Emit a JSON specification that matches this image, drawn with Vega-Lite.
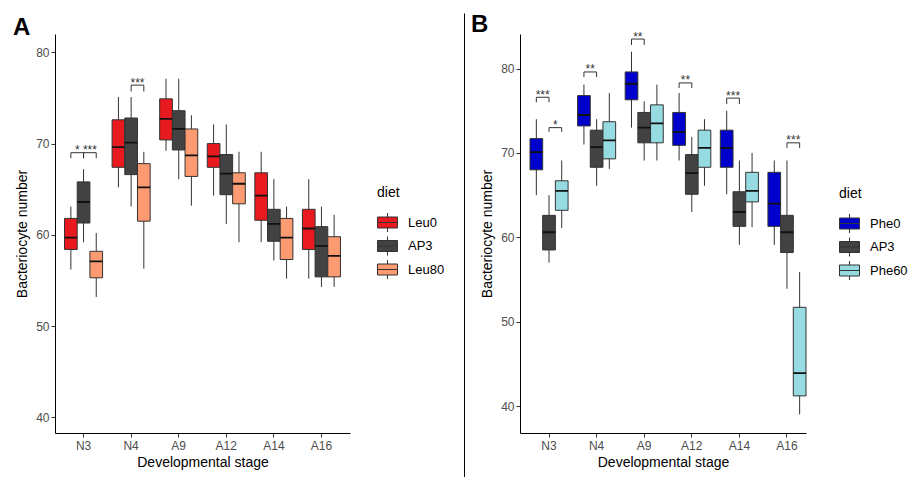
{
  "$schema": "https://vega.github.io/schema/vega-lite/v6.json",
  "background": "white",
  "padding": {"left": 13, "top": 12, "right": 0, "bottom": 0},
  "columns": 3,
  "align": "none",
  "spacing": 6,
  "config": {
    "font": "Liberation Sans",
    "view": {"stroke": null},
    "axis": {"domainColor": "#000", "domainWidth": 1, "tickColor": "#333", "tickSize": 4, "labelColor": "#4D4D4D", "labelFontSize": 12, "labelPadding": 2, "titleFontSize": 14, "titleFontWeight": "normal", "titleColor": "#000", "grid": false},
    "legend": {"titleFontSize": 14, "titleFontWeight": "normal", "titleColor": "#000", "labelFontSize": 13, "labelColor": "#000", "symbolType": "M-1,-0.55H1V0.55H-1Z M-1,0H1 M0,-0.55V-0.95 M0,0.55V0.95", "symbolSize": 400, "symbolStrokeColor": "#333", "symbolStrokeWidth": 1, "symbolOpacity": 1, "labelOffset": 10, "rowPadding": 0.5, "titlePadding": 12, "padding": 13}
  },
  "resolve": {"scale": {"color": "independent", "x": "independent", "y": "independent", "xOffset": "independent"}, "legend": {"color": "independent"}},
  "concat": [
    {
      "width": 295,
      "height": 399,
      "title": {"text": "A", "fontSize": 24, "fontWeight": "bold", "color": "#000", "anchor": "start", "frame": "group", "dx": -42, "offset": -6},
      "data": {"values": [
        {"stage": "N3", "diet": "Leu0", "min": 56.2, "q1": 58.4, "med": 59.7, "q3": 61.8, "max": 63.1},
        {"stage": "N3", "diet": "AP3", "min": 59.2, "q1": 61.3, "med": 63.6, "q3": 65.8, "max": 67.2},
        {"stage": "N3", "diet": "Leu80", "min": 53.2, "q1": 55.3, "med": 57.1, "q3": 58.2, "max": 60.2},
        {"stage": "N4", "diet": "Leu0", "min": 65.2, "q1": 67.4, "med": 69.6, "q3": 72.6, "max": 75.1},
        {"stage": "N4", "diet": "AP3", "min": 63.1, "q1": 66.6, "med": 70.1, "q3": 72.8, "max": 75.1},
        {"stage": "N4", "diet": "Leu80", "min": 56.3, "q1": 61.5, "med": 65.2, "q3": 67.8, "max": 69.1},
        {"stage": "A9", "diet": "Leu0", "min": 69.2, "q1": 70.4, "med": 72.7, "q3": 74.9, "max": 77.1},
        {"stage": "A9", "diet": "AP3", "min": 66.1, "q1": 69.3, "med": 71.6, "q3": 73.6, "max": 77.1},
        {"stage": "A9", "diet": "Leu80", "min": 63.2, "q1": 66.4, "med": 68.7, "q3": 71.6, "max": 73.1},
        {"stage": "A12", "diet": "Leu0", "min": 64.3, "q1": 67.4, "med": 68.6, "q3": 70.0, "max": 72.1},
        {"stage": "A12", "diet": "AP3", "min": 61.2, "q1": 64.4, "med": 66.7, "q3": 68.8, "max": 72.1},
        {"stage": "A12", "diet": "Leu80", "min": 59.2, "q1": 63.4, "med": 65.6, "q3": 66.8, "max": 69.1},
        {"stage": "A14", "diet": "Leu0", "min": 59.2, "q1": 61.6, "med": 64.3, "q3": 66.8, "max": 69.1},
        {"stage": "A14", "diet": "AP3", "min": 57.2, "q1": 59.3, "med": 61.2, "q3": 62.8, "max": 66.1},
        {"stage": "A14", "diet": "Leu80", "min": 55.2, "q1": 57.3, "med": 59.7, "q3": 61.8, "max": 63.1},
        {"stage": "A16", "diet": "Leu0", "min": 55.2, "q1": 58.4, "med": 60.7, "q3": 62.8, "max": 66.1},
        {"stage": "A16", "diet": "AP3", "min": 54.3, "q1": 55.4, "med": 58.8, "q3": 60.9, "max": 63.1},
        {"stage": "A16", "diet": "Leu80", "min": 54.3, "q1": 55.4, "med": 57.7, "q3": 59.8, "max": 62.2}
      ]},
      "encoding": {
        "x": {"field": "stage", "type": "nominal", "sort": ["N3", "N4", "A9", "A12", "A14", "A16"], "scale": {"paddingInner": 0.2, "paddingOuter": 0.2}, "axis": {"title": "Developmental stage", "labelAngle": 0, "labelPadding": 3, "titlePadding": 4}},
        "xOffset": {"field": "diet", "type": "nominal", "sort": ["Leu0", "AP3", "Leu80"], "scale": {"paddingInner": 0, "paddingOuter": 0}}
      },
      "layer": [
        {
          "mark": {"type": "rule", "color": "#333", "strokeWidth": 1},
          "encoding": {
            "y": {"field": "min", "type": "quantitative", "scale": {"domain": [38.3, 82], "nice": false, "zero": false}, "axis": {"title": "Bacteriocyte number", "values": [40, 50, 60, 70, 80], "titlePadding": 6}},
            "y2": {"field": "max"}
          }
        },
        {
          "mark": {"type": "bar", "stroke": "#333", "strokeWidth": 1},
          "encoding": {
            "y": {"field": "q1", "type": "quantitative"},
            "y2": {"field": "q3"},
            "color": {"field": "diet", "type": "nominal", "sort": ["Leu0", "AP3", "Leu80"], "scale": {"domain": ["Leu0", "AP3", "Leu80"], "range": ["#E8191F", "#424242", "#FC9A72"]}, "legend": {"title": "diet", "orient": "none", "legendX": 309, "legendY": 139}}
          }
        },
        {
          "mark": {"type": "bar", "fill": "transparent", "stroke": "#111", "strokeWidth": 1.8},
          "encoding": {
            "y": {"field": "med", "type": "quantitative"},
            "y2": {"field": "med"}
          }
        },
        {
          "data": {"values": [
            {"id": "a1", "stage": "N3", "diet": "Leu0", "y": 68.4, "k": 1},
            {"id": "a1", "stage": "N3", "diet": "Leu0", "y": 69.0, "k": 2},
            {"id": "a1", "stage": "N3", "diet": "AP3", "y": 69.0, "k": 3},
            {"id": "a1", "stage": "N3", "diet": "AP3", "y": 68.4, "k": 4},
            {"id": "a2", "stage": "N3", "diet": "AP3", "y": 68.4, "k": 1},
            {"id": "a2", "stage": "N3", "diet": "AP3", "y": 69.0, "k": 2},
            {"id": "a2", "stage": "N3", "diet": "Leu80", "y": 69.0, "k": 3},
            {"id": "a2", "stage": "N3", "diet": "Leu80", "y": 68.4, "k": 4},
            {"id": "a3", "stage": "N4", "diet": "AP3", "y": 75.7, "k": 1},
            {"id": "a3", "stage": "N4", "diet": "AP3", "y": 76.4, "k": 2},
            {"id": "a3", "stage": "N4", "diet": "Leu80", "y": 76.4, "k": 3},
            {"id": "a3", "stage": "N4", "diet": "Leu80", "y": 75.7, "k": 4}
          ]},
          "mark": {"type": "line", "color": "#333", "strokeWidth": 1},
          "encoding": {
            "y": {"field": "y", "type": "quantitative"},
            "detail": {"field": "id"},
            "order": {"field": "k", "type": "quantitative"}
          }
        },
        {
          "data": {"values": [
            {"stage": "N3", "diet": "Leu0", "y": 69.0, "label": "*"},
            {"stage": "N3", "diet": "AP3", "y": 69.0, "label": "***"},
            {"stage": "N4", "diet": "AP3", "y": 76.4, "label": "***"}
          ]},
          "mark": {"type": "text", "color": "#333", "fontSize": 12, "baseline": "alphabetic", "dx": 6.35, "dy": 1.5},
          "encoding": {
            "y": {"field": "y", "type": "quantitative"},
            "text": {"field": "label"}
          }
        }
      ]
    },
    {
      "width": 1,
      "height": 443,
      "data": {"values": []},
      "mark": {"type": "rule"},
      "encoding": {
        "y": {"field": "v", "type": "quantitative", "scale": {"domain": [0, 1], "range": [443, -21]}, "axis": {"domain": true, "domainColor": "#000", "domainWidth": 1, "ticks": false, "labels": false, "title": null}}
      }
    },
    {
      "width": 286,
      "height": 399,
      "title": {"text": "B", "fontSize": 24, "fontWeight": "bold", "color": "#000", "anchor": "start", "frame": "group", "dx": -49, "offset": -6},
      "data": {"values": [
        {"stage": "N3", "diet": "Phe0", "min": 65.0, "q1": 68.0, "med": 70.1, "q3": 71.7, "max": 74.0},
        {"stage": "N3", "diet": "AP3", "min": 57.0, "q1": 58.5, "med": 60.6, "q3": 62.6, "max": 65.0},
        {"stage": "N3", "diet": "Phe60", "min": 61.1, "q1": 63.2, "med": 65.5, "q3": 66.7, "max": 69.1},
        {"stage": "N4", "diet": "Phe0", "min": 71.0, "q1": 73.2, "med": 74.5, "q3": 76.8, "max": 78.1},
        {"stage": "N4", "diet": "AP3", "min": 66.1, "q1": 68.3, "med": 70.7, "q3": 72.7, "max": 74.0},
        {"stage": "N4", "diet": "Phe60", "min": 68.1, "q1": 69.3, "med": 71.5, "q3": 73.7, "max": 77.1},
        {"stage": "A9", "diet": "Phe0", "min": 73.0, "q1": 76.3, "med": 78.2, "q3": 79.6, "max": 82.0},
        {"stage": "A9", "diet": "AP3", "min": 69.1, "q1": 71.2, "med": 73.0, "q3": 74.8, "max": 76.1},
        {"stage": "A9", "diet": "Phe60", "min": 69.1, "q1": 71.2, "med": 73.5, "q3": 75.7, "max": 78.1},
        {"stage": "A12", "diet": "Phe0", "min": 69.1, "q1": 70.9, "med": 72.5, "q3": 74.8, "max": 77.1},
        {"stage": "A12", "diet": "AP3", "min": 63.0, "q1": 65.1, "med": 67.6, "q3": 69.8, "max": 71.9},
        {"stage": "A12", "diet": "Phe60", "min": 66.1, "q1": 68.3, "med": 70.6, "q3": 72.7, "max": 74.0},
        {"stage": "A14", "diet": "Phe0", "min": 65.1, "q1": 68.3, "med": 70.6, "q3": 72.7, "max": 75.0},
        {"stage": "A14", "diet": "AP3", "min": 59.1, "q1": 61.3, "med": 63.0, "q3": 65.4, "max": 69.1},
        {"stage": "A14", "diet": "Phe60", "min": 61.2, "q1": 64.2, "med": 65.5, "q3": 67.7, "max": 70.0},
        {"stage": "A16", "diet": "Phe0", "min": 59.1, "q1": 61.3, "med": 64.0, "q3": 67.7, "max": 69.1},
        {"stage": "A16", "diet": "AP3", "min": 53.9, "q1": 58.2, "med": 60.6, "q3": 62.6, "max": 69.1},
        {"stage": "A16", "diet": "Phe60", "min": 39.0, "q1": 41.2, "med": 43.9, "q3": 51.7, "max": 55.9}
      ]},
      "encoding": {
        "x": {"field": "stage", "type": "nominal", "sort": ["N3", "N4", "A9", "A12", "A14", "A16"], "scale": {"paddingInner": 0.2, "paddingOuter": 0.105, "align": 1}, "axis": {"title": "Developmental stage", "labelAngle": 0, "labelPadding": 3, "titlePadding": 4}},
        "xOffset": {"field": "diet", "type": "nominal", "sort": ["Phe0", "AP3", "Phe60"], "scale": {"paddingInner": 0, "paddingOuter": 0}}
      },
      "layer": [
        {
          "mark": {"type": "rule", "color": "#333", "strokeWidth": 1},
          "encoding": {
            "y": {"field": "min", "type": "quantitative", "scale": {"domain": [36.8, 84.1], "nice": false, "zero": false}, "axis": {"title": "Bacteriocyte number", "values": [40, 50, 60, 70, 80], "titlePadding": 6}},
            "y2": {"field": "max"}
          }
        },
        {
          "mark": {"type": "bar", "stroke": "#333", "strokeWidth": 1},
          "encoding": {
            "y": {"field": "q1", "type": "quantitative"},
            "y2": {"field": "q3"},
            "color": {"field": "diet", "type": "nominal", "sort": ["Phe0", "AP3", "Phe60"], "scale": {"domain": ["Phe0", "AP3", "Phe60"], "range": ["#0000CD", "#424242", "#97DBE2"]}, "legend": {"title": "diet", "orient": "none", "legendX": 306, "legendY": 140}}
          }
        },
        {
          "mark": {"type": "bar", "fill": "transparent", "stroke": "#111", "strokeWidth": 1.8},
          "encoding": {
            "y": {"field": "med", "type": "quantitative"},
            "y2": {"field": "med"}
          }
        },
        {
          "data": {"values": [
            {"id": "b1", "stage": "N3", "diet": "Phe0", "y": 76.0, "k": 1},
            {"id": "b1", "stage": "N3", "diet": "Phe0", "y": 76.6, "k": 2},
            {"id": "b1", "stage": "N3", "diet": "AP3", "y": 76.6, "k": 3},
            {"id": "b1", "stage": "N3", "diet": "AP3", "y": 76.0, "k": 4},
            {"id": "b2", "stage": "N3", "diet": "AP3", "y": 72.5, "k": 1},
            {"id": "b2", "stage": "N3", "diet": "AP3", "y": 73.0, "k": 2},
            {"id": "b2", "stage": "N3", "diet": "Phe60", "y": 73.0, "k": 3},
            {"id": "b2", "stage": "N3", "diet": "Phe60", "y": 72.5, "k": 4},
            {"id": "b3", "stage": "N4", "diet": "Phe0", "y": 79.0, "k": 1},
            {"id": "b3", "stage": "N4", "diet": "Phe0", "y": 79.6, "k": 2},
            {"id": "b3", "stage": "N4", "diet": "AP3", "y": 79.6, "k": 3},
            {"id": "b3", "stage": "N4", "diet": "AP3", "y": 79.0, "k": 4},
            {"id": "b4", "stage": "A9", "diet": "Phe0", "y": 82.8, "k": 1},
            {"id": "b4", "stage": "A9", "diet": "Phe0", "y": 83.5, "k": 2},
            {"id": "b4", "stage": "A9", "diet": "AP3", "y": 83.5, "k": 3},
            {"id": "b4", "stage": "A9", "diet": "AP3", "y": 82.8, "k": 4},
            {"id": "b5", "stage": "A12", "diet": "Phe0", "y": 77.7, "k": 1},
            {"id": "b5", "stage": "A12", "diet": "Phe0", "y": 78.3, "k": 2},
            {"id": "b5", "stage": "A12", "diet": "AP3", "y": 78.3, "k": 3},
            {"id": "b5", "stage": "A12", "diet": "AP3", "y": 77.7, "k": 4},
            {"id": "b6", "stage": "A14", "diet": "Phe0", "y": 75.8, "k": 1},
            {"id": "b6", "stage": "A14", "diet": "Phe0", "y": 76.5, "k": 2},
            {"id": "b6", "stage": "A14", "diet": "AP3", "y": 76.5, "k": 3},
            {"id": "b6", "stage": "A14", "diet": "AP3", "y": 75.8, "k": 4},
            {"id": "b7", "stage": "A16", "diet": "AP3", "y": 70.6, "k": 1},
            {"id": "b7", "stage": "A16", "diet": "AP3", "y": 71.2, "k": 2},
            {"id": "b7", "stage": "A16", "diet": "Phe60", "y": 71.2, "k": 3},
            {"id": "b7", "stage": "A16", "diet": "Phe60", "y": 70.6, "k": 4}
          ]},
          "mark": {"type": "line", "color": "#333", "strokeWidth": 1},
          "encoding": {
            "y": {"field": "y", "type": "quantitative"},
            "detail": {"field": "id"},
            "order": {"field": "k", "type": "quantitative"}
          }
        },
        {
          "data": {"values": [
            {"stage": "N3", "diet": "Phe0", "y": 76.6, "label": "***"},
            {"stage": "N3", "diet": "AP3", "y": 73.0, "label": "*"},
            {"stage": "N4", "diet": "Phe0", "y": 79.6, "label": "**"},
            {"stage": "A9", "diet": "Phe0", "y": 83.5, "label": "**"},
            {"stage": "A12", "diet": "Phe0", "y": 78.3, "label": "**"},
            {"stage": "A14", "diet": "Phe0", "y": 76.5, "label": "***"},
            {"stage": "A16", "diet": "AP3", "y": 71.2, "label": "***"}
          ]},
          "mark": {"type": "text", "color": "#333", "fontSize": 12, "baseline": "alphabetic", "dx": 6.35, "dy": 1.5},
          "encoding": {
            "y": {"field": "y", "type": "quantitative"},
            "text": {"field": "label"}
          }
        }
      ]
    }
  ]
}
